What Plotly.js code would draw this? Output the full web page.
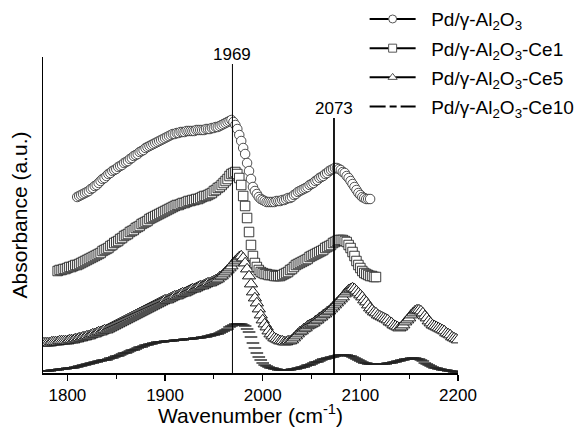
<!DOCTYPE html>
<html>
<head>
<meta charset="utf-8">
<script src="https://cdn.plot.ly/plotly-3.0.1.min.js"></script>
<style>html,body{margin:0;padding:0;background:#fff;}#chart{width:582px;height:432px;}</style>
</head>
<body>
<div id="chart"></div>
<script>
// Series names
const seriesNames = [
  'Pd/γ-Al<sub>2</sub>O<sub>3</sub>',
  'Pd/γ-Al<sub>2</sub>O<sub>3</sub>-Ce1',
  'Pd/γ-Al<sub>2</sub>O<sub>3</sub>-Ce5',
  'Pd/γ-Al<sub>2</sub>O<sub>3</sub>-Ce10'
];
// Wavenumber grid: start values and spacing (cm-1)
const startWn = [1810, 1790, 1776, 1776];
const stepWn = 2;
// Marked peak positions (cm-1)
const peaks = [1969, 2073];
const peakLabels = ['1969', '2073'];
const xTitle = 'Wavenumber (cm<sup>-1</sup>)';
const yTitle = 'Absorbance (a.u.)';

// Absorbance (a.u., offset spectra)
const absAl2O3 = [
176,177,178,179,180,181,182,184,185,187,
188,190,192,194,195,197,199,200,202,203,
204,206,207,208,210,211,212,214,215,217,
218,219,221,222,223,225,226,227,228,229,
230,231,232,233,234,235,236,237,238,239,
239,240,240,241,241,241,242,242,242,242,
242,243,243,243,243,243,244,244,244,245,
245,246,246,247,248,249,250,251,252,253,
251,248,244,238,232,225,219,210,202,194,
186,182,179,176,174,173,172,171,171,171,
171,171,172,172,172,173,173,174,175,175,
176,178,179,181,182,183,184,185,186,188,
189,190,192,193,195,196,197,199,200,202,
203,204,205,205,204,203,201,200,197,195,
192,189,186,183,180,178,176,175,174,174,
174];
const absCe1 = [
102,103,103,104,104,105,106,106,107,108,
108,109,110,111,112,113,114,115,116,117,
118,119,120,122,123,124,125,127,128,130,
131,132,134,135,137,138,139,141,142,143,
145,146,147,149,150,151,152,154,155,156,
157,158,159,160,161,162,163,164,165,166,
167,168,168,169,170,170,171,172,172,173,
173,174,174,175,176,177,177,178,179,180,
182,183,185,186,188,190,192,194,197,199,
200,201,199,195,188,177,167,155,141,128,
117,110,106,103,101,100,99,99,98,98,
98,97,97,97,97,98,99,100,101,103,
104,106,108,109,110,111,112,113,114,116,
117,118,119,120,121,122,123,125,126,127,
128,130,131,132,133,133,133,132,131,128,
125,121,117,112,108,105,102,100,99,98,
97,97,96,96];
const absCe5 = [
30,30,30,30,31,31,31,31,32,32,
32,32,32,33,33,33,34,34,35,35,
36,36,37,37,38,39,39,40,41,41,
42,43,43,44,45,46,47,48,49,50,
51,52,53,54,55,56,57,58,59,60,
61,62,63,64,65,66,67,68,69,70,
71,72,73,73,74,75,76,77,77,78,
79,80,80,81,82,83,84,84,85,86,
87,87,88,89,90,90,91,92,93,94,
96,97,99,101,103,105,107,110,112,114,
116,117,115,110,104,97,89,81,75,70,
64,58,53,49,46,42,39,37,35,34,
33,32,32,31,31,32,32,33,35,37,
39,41,42,44,45,47,48,49,50,52,
53,55,56,58,59,61,62,64,66,68,
70,72,74,76,79,81,83,84,85,84,
82,80,78,76,73,71,68,65,63,61,
60,58,57,56,55,54,53,51,50,48,
47,46,45,46,48,51,53,55,58,60,
62,63,63,62,60,57,55,52,50,48,
47,46,45,44,43,42,40,39,38,36,
35,34,33];
const absCe10 = [
2,2,2,2,3,3,3,3,4,4,
4,4,5,5,5,5,6,6,7,7,
8,8,9,9,10,10,11,11,12,12,
13,13,13,14,15,15,16,17,17,18,
19,20,20,21,22,23,23,24,25,26,
26,27,28,28,29,29,30,30,31,31,
31,31,32,32,32,32,32,33,33,33,
33,33,34,34,34,34,34,35,35,35,
35,36,36,36,37,37,38,38,39,39,
40,41,42,43,44,46,47,48,49,49,
49,49,48,47,44,41,36,30,25,20,
16,13,10,8,7,6,5,5,4,4,
3,3,3,3,3,3,3,4,4,4,
5,5,6,6,7,8,8,9,10,11,
11,12,13,14,14,15,15,16,16,17,
17,18,18,18,18,18,17,17,16,15,
14,13,12,11,10,10,9,9,9,9,
9,9,9,9,9,9,10,10,10,11,
11,12,12,13,13,14,14,14,15,15,
15,14,14,13,12,10,9,8,7,6,
5,5,4,4,3,3,3,2,2,2,
1,1,1];

const allAbs = [absAl2O3, absCe1, absCe5, absCe10];
const symbols = ['circle', 'square', 'triangle-up', 'line-ew'];
const FONT = 'Liberation Sans, Arial, sans-serif';

const traces = [];
// data traces (draw bottom series first)
[3, 2, 1, 0].forEach(i => {
  const isLine = symbols[i] === 'line-ew';
  traces.push({
    type: 'scatter', mode: 'markers',
    x0: startWn[i], dx: stepWn, y: allAbs[i],
    showlegend: false, cliponaxis: true,
    marker: isLine ? {symbol: 'line-ew', size: 9, line: {color: '#222', width: 1.4}}
      : {symbol: symbols[i], size: i === 2 ? 11.5 : 9.5, color: '#fff',
         line: {color: i === 0 ? '#333' : '#1a1a1a', width: i === 2 ? 1 : 0.85}}
  });
});
// legend entries
[0, 1, 2, 3].forEach(i => {
  const isLine = symbols[i] === 'line-ew';
  traces.push({
    type: 'scatter', mode: isLine ? 'lines' : 'lines+markers',
    x: [null], y: [null], name: '\u00a0\u00a0' + seriesNames[i],
    legendgroup: 'g' + i,
    line: {color: '#000', width: 2, dash: isLine ? '16px,4px,7px,4px,16px' : 'solid'},
    marker: {symbol: symbols[i], size: 8, color: '#fff', line: {color: '#555', width: 1}}
  });
});

const peakTops = [309, 255];
const shapes = peaks.map((p, k) => ({
  type: 'line', xref: 'x', yref: 'y', x0: p, x1: p, y0: 0, y1: peakTops[k],
  line: {color: '#000', width: k === 0 ? 1 : 1.8}
}));
const annotations = peaks.map((p, k) => ({
  x: p, y: peakTops[k], xref: 'x', yref: 'y', text: peakLabels[k],
  showarrow: false, yanchor: 'bottom', yshift: -2,
  font: {family: FONT, size: 17, color: '#000'}
}));
// x-axis title placed as a paper annotation (centered under the axis)
annotations.push({
  xref: 'paper', yref: 'paper', x: 0.5, y: 0, yanchor: 'top', yshift: -26,
  text: xTitle, showarrow: false, font: {family: FONT, size: 21, color: '#000'}
});

const layout = {
  width: 582, height: 432,
  margin: {l: 43, r: 124, t: 57, b: 59, autoexpand: false},
  paper_bgcolor: '#fff', plot_bgcolor: '#fff',
  font: {family: FONT, color: '#000'},
  showlegend: true,
  legend: {
    x: 0.775, y: 1.18, xanchor: 'left', yanchor: 'top',
    bgcolor: 'rgba(0,0,0,0)', font: {size: 19, color: '#000'},
    traceorder: 'grouped', tracegroupgap: 1.5, itemwidth: 46
  },
  xaxis: {
    range: [1775, 2200], showgrid: false, zeroline: false,
    showline: true, linecolor: '#000', linewidth: 1.5,
    ticks: 'outside', ticklen: 6, tickwidth: 1.2, tickcolor: '#000',
    tick0: 1800, dtick: 100, tickfont: {size: 17},
    minor: {ticks: 'outside', ticklen: 4, tickwidth: 1, tickcolor: '#000', dtick: 50, tick0: 1800, showgrid: false}
  },
  yaxis: {
    range: [0, 316], showgrid: false, zeroline: false,
    showline: true, linecolor: '#000', linewidth: 1.5,
    ticks: '', showticklabels: false,
    title: {text: yTitle, font: {size: 21}, standoff: 8}
  },
  shapes: shapes,
  annotations: annotations
};

Plotly.newPlot('chart', traces, layout, {staticPlot: true, displayModeBar: false});
</script>
</body>
</html>
